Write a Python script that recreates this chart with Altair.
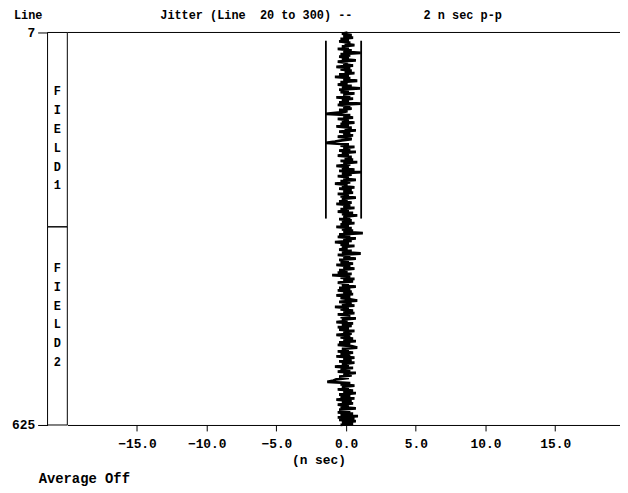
import altair as alt
import pandas as pd

# Jitter (n sec) sampled every 2nd line, starting at line 7 and ending at line 625
jitter_ns = [
    0.1, -0.3, 0.4, -0.2, 0.5, -0.4, 0.2, -0.5, 0.3, -0.1,
    0.6, -0.3, 0.2, -0.6, 0.4, -0.2, 1.05, -0.4, 0.3, -0.5,
    0.2, -0.3, 0.7, -0.6, 0.1, -0.2, 0.5, -0.7, 0.3, -0.4,
    0.4, -0.1, 0.6, -0.5, 0.2, -0.8, 0.3, -0.2, 0.8, -0.4,
    0.1, -0.6, 0.4, -0.3, 1.0, -0.5, 0.2, -0.4, 0.6, -0.2,
    0.3, -0.7, 0.5, -0.3, 0.2, -0.5, 1.05, -0.6, 0.3, -0.2,
    0.4, -0.5, 0.1, -0.4, -1.45, 0.3, -0.2, 0.5, -0.6, 0.2,
    -0.3, 0.6, -0.4, 0.2, -0.7, 0.4, -0.1, 0.7, -0.5, 0.3,
    -0.2, 0.5, -0.6, 0.1, 0.4, -0.3, -0.8, -1.45, 0.2, -0.4,
    0.6, -0.2, 0.3, -0.5, 0.7, -0.3, 0.2, -0.6, 0.4, -0.1,
    0.5, -0.4, 0.8, -0.2, 0.3, -0.7, 0.2, -0.3, 0.6, -0.5,
    1.08, -0.3, 0.4, -0.6, 0.2, -0.2, 0.7, -0.4, 0.3, -0.8,
    0.1, -0.3, 0.6, -0.5, 0.4, -0.2, 0.5, -0.6, 0.2, -0.4,
    0.7, -0.3, 0.1, -0.5, 0.4, -0.7, 0.3, -0.2, 0.6, -0.4,
    0.2, -0.6, 0.5, -0.3, 0.8, -0.2, 0.3, -0.5, 0.4, -0.3,
    0.6, -0.4, 0.2, -0.7, 0.4, -0.3, 0.5, -0.2, 1.2, -0.5,
    0.3, -0.6, 0.7, -0.2, 0.4, -0.8, 0.2, -0.4, 0.6, -0.3,
    0.1, -0.5, 0.4, -0.3, 1.05, -0.6, 0.3, -0.2, 0.7, -0.5,
    0.2, -0.4, 0.5, -0.7, 0.3, -0.2, 0.6, -0.5, 0.1, -0.6,
    0.4, -1.0, 0.3, -0.4, 0.6, -0.2, 0.5, -0.6, 0.2, -0.3,
    0.7, -0.5, 0.3, -0.6, 0.4, -0.2, 0.5, -0.7, 0.3, -0.4,
    0.2, 0.8, -0.5, 0.4, -0.3, 0.6, -0.8, 0.2, -0.4, 0.5,
    -0.2, 0.6, -0.6, 0.3, -0.4, 0.7, -0.3, 0.1, -0.7, 0.5,
    -0.3, 0.4, -0.6, 0.2, -0.5, 0.6, -0.2, 0.4, -0.7, 0.3,
    -0.4, 0.5, -0.2, 0.7, -0.5, 0.3, -0.6, 0.4, 0.8, -0.3,
    0.2, -0.6, 0.5, -0.4, 0.3, -0.7, 0.6, -0.2, 0.4, -0.5,
    0.6, -0.3, 0.2, -0.8, 0.5, -0.4, 0.3, -0.6, 0.7, -0.2,
    0.4, -0.5, 0.2, -0.7, -0.9, -1.35, 0.3, -0.4, 0.6, -0.3,
    0.2, -0.6, 0.5, -0.2, 0.7, -0.5, 0.3, -0.4, 0.6, -0.7,
    0.4, -0.3, 0.5, -0.6, 0.2, -0.4, 0.7, -0.5, 0.3, -0.6,
    0.5, -0.4, 0.85, -0.6, 0.6, -0.5, 0.7, -0.3, 0.5, -0.4,
]
first_line = 7
line_step = 2
line_numbers = [first_line + line_step * i for i in range(len(jitter_ns))]

# Peak-to-peak limit markers over lines 20..300
limit_ns = [-1.45, 1.08]
limit_from_line = [20, 20]
limit_to_line = [300, 300]

# Field boxes
field_start = [7, 313]
field_end = [313, 625]
field_first_letter = [100, 378]
field_label = ["F\nI\nE\nL\nD\n1", "F\nI\nE\nL\nD\n2"]

x_ticks = [-15, -10, -5, 0, 5, 10, 15]
y_ticks = [7, 625]

title_text = "Jitter (Line\u00a0\u00a020 to 300) --" + "\u00a0" * 10 + "2 n sec p-p"
y_label_text = "Line"
footer_text = "Average Off"
x_title = "(n sec)"

FONT = "Liberation Mono"
W, H = 559, 397

trace_df = pd.DataFrame({"line": line_numbers, "ns": jitter_ns})
limits_df = pd.DataFrame({"ns": limit_ns, "l0": limit_from_line, "l1": limit_to_line})
fields_df = pd.DataFrame({"s": field_start, "e": field_end, "m": field_first_letter, "label": field_label})

xs = alt.Scale(domain=[-20, 19.65], nice=False, zero=False)
ys = alt.Scale(domain=[7, 625], reverse=True, nice=False, zero=False)

x_axis = alt.Axis(
    values=x_ticks, format=".1f", title=x_title, grid=False,
    domainColor="black", tickColor="black", tickSize=6, labelColor="black",
    labelFont=FONT, labelFontSize=13, labelFontWeight="bold", labelPadding=7,
    titleFont=FONT, titleFontSize=13, titleFontWeight="bold", titleColor="black",
    titlePadding=3, titleX=254, titleAlign="center",
)
y_axis = alt.Axis(
    values=y_ticks, title=None, grid=False, domain=False, offset=20,
    tickColor="black", tickSize=10, labelColor="black", labelFont=FONT,
    labelFontSize=13, labelFontWeight="bold", labelPadding=3,
)

trace = alt.Chart(trace_df).mark_line(color="black", strokeWidth=2.8).encode(
    x=alt.X("ns:Q", scale=xs, axis=x_axis),
    y=alt.Y("line:Q", scale=ys, axis=y_axis),
    order="line:Q",
)

limits = alt.Chart(limits_df).mark_rule(color="black", strokeWidth=1.8).encode(
    x=alt.X("ns:Q", scale=xs),
    y=alt.Y("l0:Q", scale=ys),
    y2="l1:Q",
)

boxes = alt.Chart(fields_df).mark_rect(filled=False, stroke="black", strokeWidth=1).encode(
    y=alt.Y("s:Q", scale=ys),
    y2="e:Q",
    x=alt.value(-20),
    x2=alt.value(0),
)

box_text = alt.Chart(fields_df).mark_text(
    lineBreak="\n", font=FONT, fontSize=12, fontWeight="bold", lineHeight=19,
    baseline="middle", align="center", color="black",
).encode(
    y=alt.Y("m:Q", scale=ys),
    x=alt.value(-10),
    text="label:N",
)

top_rule = alt.Chart(pd.DataFrame({"l": [7]})).mark_rule(color="black", strokeWidth=1).encode(
    y=alt.Y("l:Q", scale=ys),
)

def label(text, x, y, size=13):
    return alt.Chart(pd.DataFrame({"t": [text]})).mark_text(
        align="left", baseline="middle", font=FONT, fontSize=size,
        fontWeight="bold", color="black",
    ).encode(x=alt.value(x), y=alt.value(y), text="t:N")

chart = alt.layer(
    boxes, box_text, top_rule, limits, trace,
    label(title_text, 94, -18, 12),
    label(y_label_text, -54, -18, 12),
    label(footer_text, -29, 452, 14),
).properties(
    width=W, height=H,
    autosize=alt.AutoSizeParams(type="none"),
    padding={"left": 60, "top": 22, "right": 0, "bottom": 63},
    background="white",
).configure_view(stroke=None)

chart.save("out.html", embed_options={"renderer": "svg", "actions": False})
